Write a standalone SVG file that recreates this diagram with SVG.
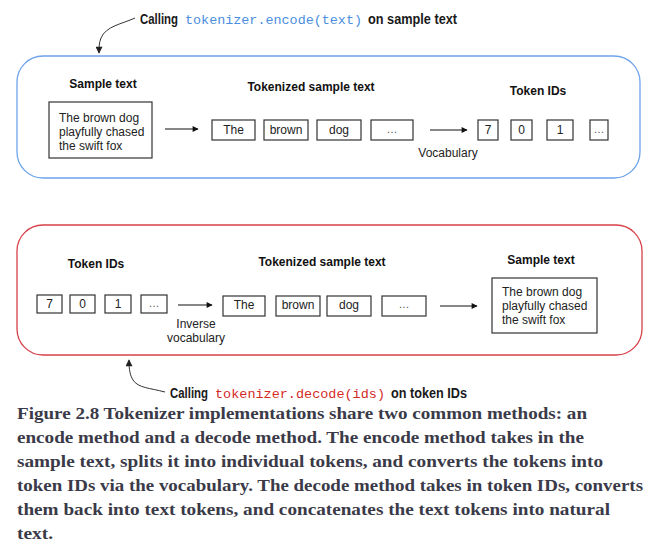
<svg xmlns="http://www.w3.org/2000/svg" width="659" height="551" viewBox="0 0 659 551">
<defs>
<marker id="ah" viewBox="0 0 10 10" refX="9" refY="5" markerWidth="8" markerHeight="6" markerUnits="userSpaceOnUse" orient="auto"><path d="M0,0 L10,5 L0,10 z" fill="#111"/></marker>
<marker id="ahc" viewBox="0 0 10 10" refX="9" refY="5" markerWidth="8" markerHeight="7" markerUnits="userSpaceOnUse" orient="auto"><path d="M0,0 L10,5 L0,10 z" fill="#222"/></marker>
</defs>
<style>
.lbl{font-family:"Liberation Sans",Arial,sans-serif;font-size:12px;font-weight:bold;fill:#111;text-anchor:middle}
.t{font-family:"Liberation Sans",Arial,sans-serif;font-size:12px;fill:#222}
.tc{font-family:"Liberation Sans",Arial,sans-serif;font-size:12px;fill:#222;text-anchor:middle}
.dots{font-family:"Liberation Sans",Arial,sans-serif;font-size:11px;fill:#555;text-anchor:middle}
.box{fill:#fff;stroke:#333;stroke-width:1.2}
.conn{fill:none;stroke:#111;stroke-width:1.1}
.curve{fill:none;stroke:#333;stroke-width:1}
.call{font-family:"Liberation Sans",Arial,sans-serif;font-size:14.5px;font-weight:bold;fill:#1a1a1a}
.code{font-family:"Liberation Mono","Courier New",monospace;font-size:13.4px}
.cap{font-family:"Liberation Serif","Times New Roman",serif;font-size:17px;font-weight:bold;fill:#3a3a48}
</style>

<g id="encode-panel">
<rect x="17" y="56" width="623" height="122" rx="26" fill="#fff" stroke="#6fa3ea" stroke-width="1.3"/>
</g>
<g id="decode-panel">
<rect x="17" y="225" width="625" height="130" rx="26" fill="#fff" stroke="#d8404a" stroke-width="1.3"/>
</g>

<g id="enc-sample">
<text class="lbl" x="103" y="88">Sample text</text>
<rect class="box" x="49" y="102" width="103" height="56"/>
<text class="t" x="59" y="122">The brown dog</text>
<text class="t" x="59" y="136">playfully chased</text>
<text class="t" x="59" y="150">the swift fox</text>
</g>
<g id="enc-tokens">
<text class="lbl" x="311" y="91">Tokenized sample text</text>
<rect class="box" x="212" y="120" width="43" height="20"/><text class="tc" x="233.5" y="134">The</text>
<rect class="box" x="264" y="120" width="44" height="20"/><text class="tc" x="286" y="134">brown</text>
<rect class="box" x="317" y="120" width="44" height="20"/><text class="tc" x="339" y="134">dog</text>
<rect class="box" x="371" y="120" width="42" height="20"/><text class="dots" x="392" y="133">…</text>
</g>
<g id="enc-ids">
<text class="lbl" x="538" y="95">Token IDs</text>
<rect class="box" x="478" y="120" width="20" height="20"/><text class="tc" x="488" y="134">7</text>
<rect class="box" x="511" y="120" width="21" height="20"/><text class="tc" x="521.5" y="134">0</text>
<rect class="box" x="547" y="120" width="26" height="20"/><text class="tc" x="560" y="134">1</text>
<rect class="box" x="590" y="120" width="18" height="20"/><text class="dots" x="599" y="133">…</text>
</g>
<g id="enc-vocab-label">
<text class="tc" x="448" y="157">Vocabulary</text>
</g>

<g id="dec-ids">
<text class="lbl" x="96" y="268">Token IDs</text>
<rect class="box" x="37" y="295" width="25" height="18"/><text class="tc" x="49.5" y="308">7</text>
<rect class="box" x="70" y="295" width="25" height="18"/><text class="tc" x="82.5" y="308">0</text>
<rect class="box" x="105" y="295" width="26" height="18"/><text class="tc" x="118" y="308">1</text>
<rect class="box" x="141" y="295" width="26" height="18"/><text class="dots" x="154" y="307">…</text>
</g>
<g id="dec-vocab-label">
<text class="tc" x="196" y="328">Inverse</text>
<text class="tc" x="196" y="342">vocabulary</text>
</g>
<g id="dec-tokens">
<text class="lbl" x="322" y="266">Tokenized sample text</text>
<rect class="box" x="223" y="296" width="42" height="20"/><text class="tc" x="244" y="309">The</text>
<rect class="box" x="276" y="296" width="44" height="20"/><text class="tc" x="298" y="309">brown</text>
<rect class="box" x="327" y="296" width="44" height="20"/><text class="tc" x="349" y="309">dog</text>
<rect class="box" x="382" y="296" width="44" height="20"/><text class="dots" x="404" y="308">…</text>
</g>
<g id="dec-sample">
<text class="lbl" x="541" y="264">Sample text</text>
<rect class="box" x="492" y="278" width="105" height="55"/>
<text class="t" x="502" y="296">The brown dog</text>
<text class="t" x="502" y="310">playfully chased</text>
<text class="t" x="502" y="324">the swift fox</text>
</g>

<g id="connectors">
<line class="conn" x1="165" y1="129" x2="198" y2="129" marker-end="url(#ah)"/>
<line class="conn" x1="430" y1="130" x2="467" y2="130" marker-end="url(#ah)"/>
<line class="conn" x1="178" y1="305" x2="212" y2="305" marker-end="url(#ah)"/>
<line class="conn" x1="440" y1="306" x2="477" y2="306" marker-end="url(#ah)"/>
<path class="curve" d="M135,18 C122,24 106,26 101,38 C99,43 99,47 99,53" marker-end="url(#ahc)"/>
<path class="curve" d="M165,392 C150,388 138,388 133,380 C130,375 129,370 129,360" marker-end="url(#ahc)"/>
</g>

<g id="callout-encode">
<text class="call" x="140" y="24"><tspan textLength="38" lengthAdjust="spacingAndGlyphs">Calling</tspan><tspan class="code" x="185" fill="#4a8ee0" font-weight="normal" textLength="177" lengthAdjust="spacingAndGlyphs">tokenizer.encode(text)</tspan><tspan x="368" textLength="89" lengthAdjust="spacingAndGlyphs">on sample text</tspan></text>
</g>
<g id="callout-decode">
<text class="call" x="170" y="398"><tspan textLength="38" lengthAdjust="spacingAndGlyphs">Calling</tspan><tspan class="code" x="215" fill="#d42a26" font-weight="normal" textLength="170" lengthAdjust="spacingAndGlyphs">tokenizer.decode(ids)</tspan><tspan x="391" textLength="76" lengthAdjust="spacingAndGlyphs">on token IDs</tspan></text>
</g>

<g id="caption">
<text class="cap" x="17" y="419" textLength="570" lengthAdjust="spacingAndGlyphs">Figure 2.8 Tokenizer implementations share two common methods: an</text>
<text class="cap" x="17" y="443" textLength="567" lengthAdjust="spacingAndGlyphs">encode method and a decode method. The encode method takes in the</text>
<text class="cap" x="17" y="467" textLength="586" lengthAdjust="spacingAndGlyphs">sample text, splits it into individual tokens, and converts the tokens into</text>
<text class="cap" x="17" y="491" textLength="626" lengthAdjust="spacingAndGlyphs">token IDs via the vocabulary. The decode method takes in token IDs, converts</text>
<text class="cap" x="17" y="515" textLength="593" lengthAdjust="spacingAndGlyphs">them back into text tokens, and concatenates the text tokens into natural</text>
<text class="cap" x="17" y="539" textLength="36" lengthAdjust="spacingAndGlyphs">text.</text>
</g>
</svg>
